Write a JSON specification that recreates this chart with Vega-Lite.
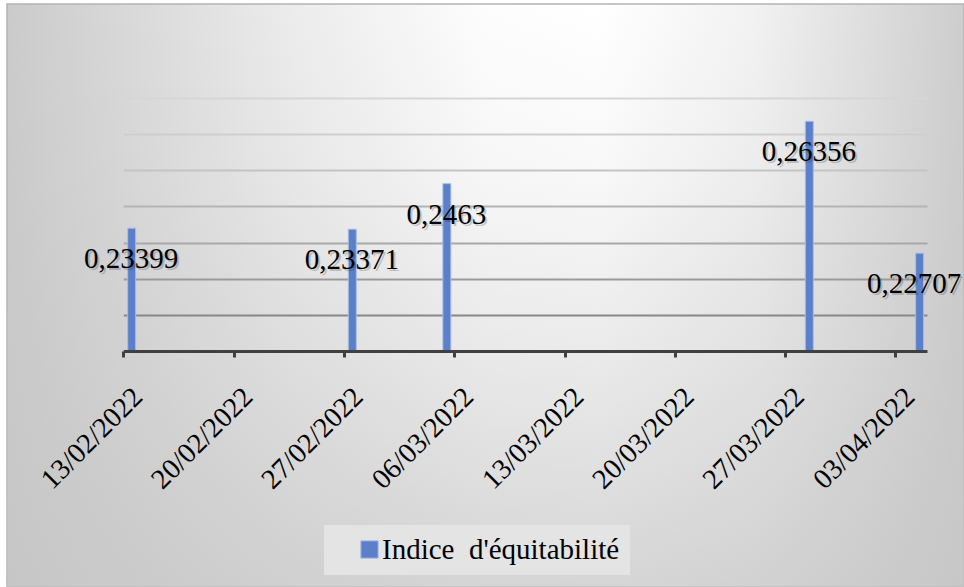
{
  "$schema": "https://vega.github.io/schema/vega-lite/v6.json",
  "width": 957,
  "height": 583,
  "autosize": {"type": "none"},
  "padding": {"left": 7, "top": 4, "right": 0, "bottom": 0},
  "background": "#ffffff",
  "config": {
    "font": "Liberation Serif",
    "locale": {
      "number": {"decimal": ",", "thousands": " ", "grouping": [3], "currency": ["", " €"]}
    },
    "view": {
      "fill": {
        "gradient": "linear",
        "x1": 0, "y1": 0, "x2": 1, "y2": 0,
        "stops": [
          {"offset": 0, "color": "#cbcbcb"},
          {"offset": 0.12, "color": "#d8d8d8"},
          {"offset": 0.3, "color": "#ececec"},
          {"offset": 0.5, "color": "#fdfdfd"},
          {"offset": 0.62, "color": "#ffffff"},
          {"offset": 0.78, "color": "#f2f2f2"},
          {"offset": 0.9, "color": "#dedede"},
          {"offset": 1, "color": "#cdcdcd"}
        ]
      },
      "stroke": "#b4b4b4",
      "strokeWidth": 1.5
    }
  },
  "data": {
    "values": [
      {"date": "2022-02-13", "indice": 0.23399},
      {"date": "2022-02-27", "indice": 0.23371},
      {"date": "2022-03-05", "indice": 0.2463},
      {"date": "2022-03-28", "indice": 0.26356},
      {"date": "2022-04-04", "indice": 0.22707}
    ]
  },
  "layer": [
    {
      "data": {"values": [{}]},
      "mark": {
        "type": "rect",
        "fill": {
          "gradient": "linear",
          "x1": 0, "y1": 0, "x2": 0, "y2": 1,
          "stops": [
            {"offset": 0, "color": "rgba(196,196,196,0)"},
            {"offset": 0.3, "color": "rgba(196,196,196,0.12)"},
            {"offset": 0.6, "color": "rgba(196,196,196,0.35)"},
            {"offset": 1, "color": "rgba(196,196,196,0.7)"}
          ]
        }
      },
      "encoding": {}
    },
    {
      "mark": {
        "type": "bar",
        "width": {"band": 0.57},
        "stroke": "#a9bde6",
        "strokeWidth": 1
      },
      "encoding": {
        "x": {
          "field": "date",
          "type": "temporal",
          "timeUnit": "utcyearmonthdate",
          "scale": {
            "type": "utc",
            "domain": [
              {"year": 2022, "month": 2, "date": 13, "utc": true},
              {"year": 2022, "month": 4, "date": 5, "utc": true}
            ],
            "range": [116.3, 920],
            "nice": false
          },
          "axis": {
            "title": null,
            "zindex": 1,
            "values": [
              {"year": 2022, "month": 2, "date": 13, "utc": true},
              {"year": 2022, "month": 2, "date": 20, "utc": true},
              {"year": 2022, "month": 2, "date": 27, "utc": true},
              {"year": 2022, "month": 3, "date": 6, "utc": true},
              {"year": 2022, "month": 3, "date": 13, "utc": true},
              {"year": 2022, "month": 3, "date": 20, "utc": true},
              {"year": 2022, "month": 3, "date": 27, "utc": true},
              {"year": 2022, "month": 4, "date": 3, "utc": true}
            ],
            "labelExpr": "utcFormat(datum.value, '%d/%m/%Y')",
            "offset": -236,
            "grid": false,
            "domainColor": "#404040",
            "domainWidth": 3,
            "tickColor": "#404040",
            "tickWidth": 3,
            "tickSize": 6,
            "labelFont": "Liberation Serif",
            "labelFontSize": 28.5,
            "labelColor": "#000000",
            "labelAngle": -45,
            "labelAlign": "right",
            "labelBaseline": "top",
            "labelPadding": 25,
            "labelOffset": 4,
            "labelOverlap": false,
            "labelBound": false,
            "labelFlush": false
          }
        },
        "y": {
          "field": "indice",
          "type": "quantitative",
          "scale": {"domain": [0.2, 0.27], "range": [347, 94], "zero": false, "nice": false},
          "axis": {
            "title": null,
            "domain": false,
            "ticks": false,
            "labels": false,
            "grid": true,
            "gridWidth": 2,
            "values": [0.21, 0.22, 0.23, 0.24, 0.25, 0.26, 0.27],
            "gridColor": {
              "condition": [
                {"test": "datum.value > 0.265", "value": "#d7d7d7"},
                {"test": "datum.value > 0.255", "value": "#cfcfcf"},
                {"test": "datum.value > 0.245", "value": "#c4c4c4"},
                {"test": "datum.value > 0.235", "value": "#b1b1b1"},
                {"test": "datum.value > 0.225", "value": "#a1a1a1"},
                {"test": "datum.value > 0.215", "value": "#8c8c8c"}
              ],
              "value": "#6e6e6e"
            }
          }
        },
        "y2": {"datum": 0.2},
        "color": {
          "datum": "Indice \u00a0d'équitabilité",
          "type": "nominal",
          "scale": {"range": ["#5b80c9"]},
          "legend": {
            "title": null,
            "orient": "none",
            "legendX": 317,
            "legendY": 521,
            "fillColor": "#e4e4e4",
            "padding": 10,
            "symbolType": "square",
            "symbolSize": 300,
            "symbolStrokeColor": "#a9bde6",
            "symbolStrokeWidth": 1,
            "symbolOffset": 21,
            "labelOffset": -2,
            "labelExpr": "datum.label + '\u00a0\u00a0\u00a0'",
            "labelFont": "Liberation Serif",
            "labelFontSize": 29,
            "labelColor": "#000000",
            "labelLimit": 400
          }
        }
      }
    },
    {
      "mark": {
        "type": "text",
        "font": "Liberation Serif",
        "fontSize": 29,
        "align": "center",
        "baseline": "middle",
        "dx": {"expr": "datum.indice < 0.23 ? -3 : 2"},
        "dy": 33,
        "color": "#000000",
        "opacity": 0.18
      },
      "encoding": {
        "x": {"field": "date", "type": "temporal", "timeUnit": "utcyearmonthdate", "bandPosition": 0.5},
        "y": {"field": "indice", "type": "quantitative"},
        "text": {"field": "indice", "type": "quantitative", "format": ".5~f"}
      }
    },
    {
      "mark": {
        "type": "text",
        "font": "Liberation Serif",
        "fontSize": 29,
        "align": "center",
        "baseline": "middle",
        "dx": {"expr": "datum.indice < 0.23 ? -5 : 0"},
        "dy": 31,
        "color": "#000000"
      },
      "encoding": {
        "x": {"field": "date", "type": "temporal", "timeUnit": "utcyearmonthdate", "bandPosition": 0.5},
        "y": {"field": "indice", "type": "quantitative"},
        "text": {"field": "indice", "type": "quantitative", "format": ".5~f"}
      }
    }
  ]
}
